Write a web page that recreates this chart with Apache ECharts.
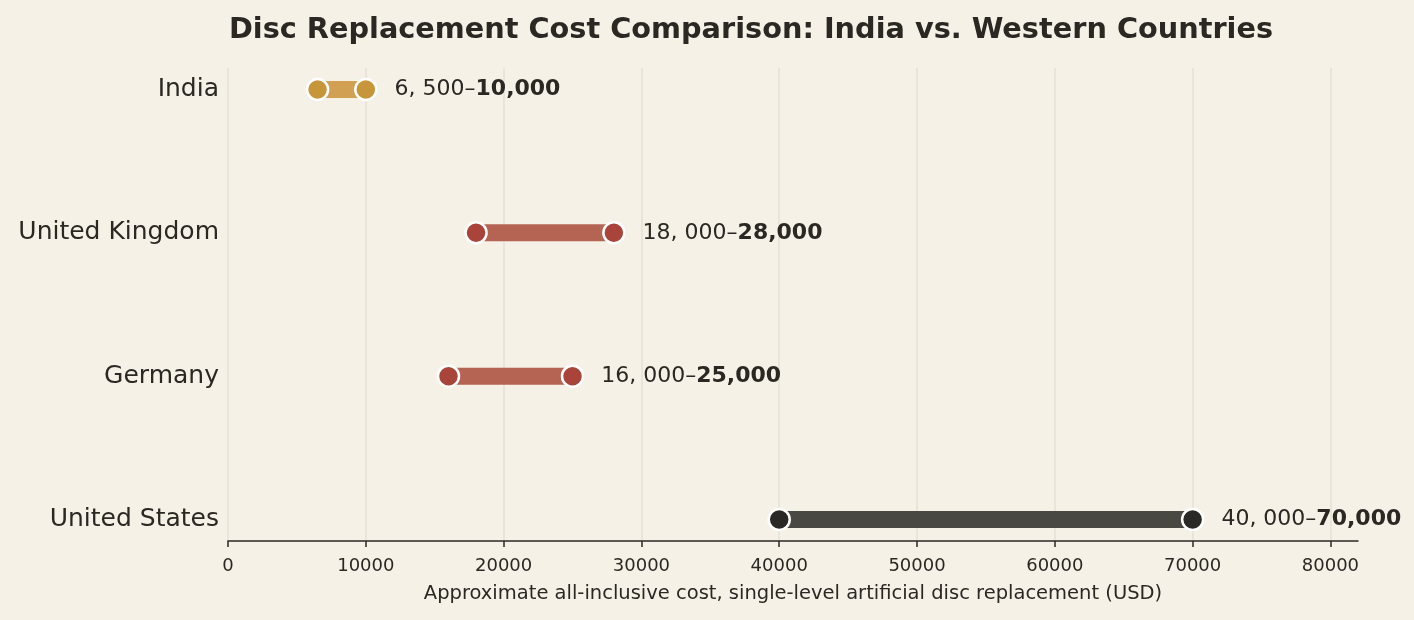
<!DOCTYPE html>
<html><head><meta charset="utf-8">
<script src="https://cdn.jsdelivr.net/npm/echarts@6/dist/echarts.min.js"></script>
<style>html,body{margin:0;padding:0;background:#F5F1E6;}#c{width:1414px;height:620px;}</style>
</head><body><div id="c"></div>
<script>
const countries = ["India", "United Kingdom", "Germany", "United States"];
const lowCost = [6500, 18000, 16000, 40000];
const highCost = [10000, 28000, 25000, 70000];
const lowLabels = ["6, 500", "18, 000", "16, 000", "40, 000"];
const highLabels = ["10,000", "28,000", "25,000", "70,000"];
const lineColors = ["#D1A052", "#B56352", "#B56352", "#4A4843"];
const dotColors = ["#C8963A", "#A8443A", "#A8443A", "#2A2826"];
const xTicks = [0, 10000, 20000, 30000, 40000, 50000, 60000, 70000, 80000];

const FONT = "DejaVu Sans";
const TXT = "#2B2824";

const series = countries.map((c, i) => ({
  type: 'line',
  name: c,
  data: [[lowCost[i], i], [highCost[i], i]],
  lineStyle: { color: lineColors[i], width: 17, cap: 'butt' },
  symbol: 'circle',
  symbolSize: 21,
  itemStyle: { color: dotColors[i], borderColor: '#FFFFFF', borderWidth: 2.5 },
  silent: true,
  z: 3,
  label: {
    show: true,
    position: 'right',
    distance: 17,
    formatter: (p) => p.dataIndex === 1 ? '{n|' + lowLabels[i] + '–}{b|' + highLabels[i] + '}' : '',
    rich: {
      n: { fontFamily: FONT, fontSize: 22, color: TXT },
      b: { fontFamily: FONT, fontSize: 22, fontWeight: 'bold', color: TXT }
    }
  }
}));

const chart = echarts.init(document.getElementById('c'));
chart.setOption({
  backgroundColor: '#F5F1E6',
  animation: false,
  title: {
    text: 'Disc Replacement Cost Comparison: India vs. Western Countries',
    left: 746, top: 11, textAlign: 'center',
    textStyle: { fontFamily: FONT, fontSize: 28.75, fontWeight: 'bold', color: TXT }
  },
  grid: { left: 228, right: 56, top: 68, bottom: 79 },
  xAxis: {
    type: 'value', min: 0, max: 82000,
    name: 'Approximate all-inclusive cost, single-level artificial disc replacement (USD)',
    nameLocation: 'middle', nameGap: 43,
    nameTextStyle: { fontFamily: FONT, fontSize: 19.5, color: TXT },
    axisLine: { show: true, onZero: false, lineStyle: { color: TXT, width: 1.5 } },
    axisTick: { show: true, length: 6, lineStyle: { color: TXT, width: 1.5 }, customValues: xTicks },
    axisLabel: { fontFamily: FONT, fontSize: 18, color: TXT, margin: 16, customValues: xTicks,
                 formatter: (v) => String(v) },
    splitLine: { show: true, lineStyle: { color: '#E6E1D5', width: 1.5 } }
  },
  yAxis: {
    type: 'value', min: -0.15, max: 3.15, inverse: true,
    axisLine: { show: false }, axisTick: { show: false },
    splitLine: { show: false },
    axisLabel: {
      customValues: [0, 1, 2, 3],
      formatter: (v) => countries[Math.round(v)],
      fontFamily: FONT, fontSize: 25, color: TXT, margin: 9,
      padding: [5, 0, 0, 0]
    }
  },
  series: series
});
</script></body></html>
